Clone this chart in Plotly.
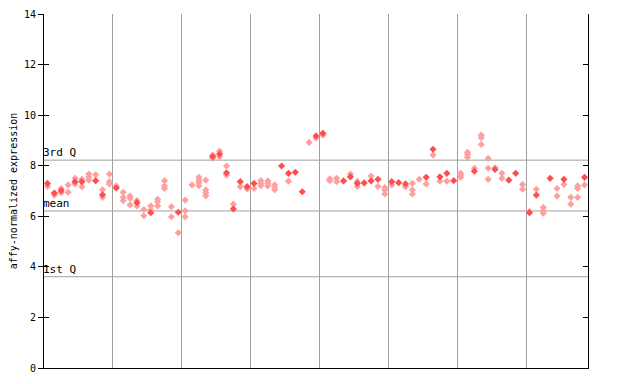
import plotly.graph_objects as go

# per-sample values: solid (filled) diamonds and light (hatched) diamonds
filled_vals = [
    [7.3], [6.92], [7.02], [], [7.37], [7.37], [], [7.41], [6.85], [],
    [7.12], [], [], [6.54], [], [6.14], [], [], [], [6.16],
    [], [], [], [], [8.36], [8.46], [7.72], [6.29], [7.37], [7.17],
    [7.3], [], [], [], [7.99], [7.7], [7.74], [6.97], [], [9.18],
    [9.28], [], [], [7.4], [7.56], [7.3], [7.32], [7.4], [7.46], [],
    [7.37], [7.33], [7.28], [], [], [7.54], [8.65], [7.56], [7.7], [7.41],
    [], [], [7.78], [], [], [7.85], [], [7.43], [7.7], [],
    [6.14], [6.84], [], [7.5], [], [7.46], [], [], [7.54],
]
light_vals = [
    [7.18], [6.84], [7.1, 6.93], [7.24, 6.95], [7.5, 7.28], [7.46, 7.17], [7.67, 7.54, 7.43], [7.64], [7.05, 6.75], [7.67, 7.37, 7.28],
    [7.2], [6.95, 6.75, 6.62], [6.8, 6.71, 6.45], [6.62, 6.41], [6.27, 6.02], [6.41, 6.25], [6.67, 6.58, 6.41], [7.41, 7.2, 7.1], [6.38, 5.98], [5.35],
    [6.64, 6.22, 5.98], [7.24], [7.54, 7.43, 7.33, 7.21], [7.43, 7.04, 6.93, 6.81], [8.42, 8.29], [8.58, 8.36], [7.99, 7.63], [6.48], [7.17], [7.08],
    [7.1], [7.41, 7.3, 7.21], [7.4, 7.3, 7.2], [7.24, 7.14, 7.05], [], [7.39], [], [], [8.92], [9.1],
    [9.21], [7.48, 7.41], [7.5, 7.37], [], [7.67], [7.38, 7.18], [], [7.59], [7.18], [7.14, 7.04, 6.88],
    [7.24], [], [7.17], [7.3, 7.04, 6.88], [7.46], [7.28], [8.42], [7.39], [7.39], [],
    [7.7, 7.63, 7.54], [8.53, 8.45, 8.33], [7.9], [9.21, 9.11, 8.84], [8.29, 7.9, 7.46], [7.92], [7.7, 7.5], [], [], [7.26, 7.07],
    [6.2], [7.07], [6.35, 6.22, 6.12], [], [7.1, 6.8], [7.26], [6.75, 6.48], [7.2, 7.1, 6.75], [7.24],
]
q3_value = 8.22
mean_value = 6.21
q1_value = 3.61
quartile_labels = ["3rd Q", "mean", "1st Q"]
y_ticks = [0, 2, 4, 6, 8, 10, 12, 14]
group_bounds = [10, 20, 30, 40, 50, 60, 70]

n_cols = len(filled_vals)

def flatten(vals):
    xs, ys = [], []
    for i, col in enumerate(vals):
        for v in col:
            xs.append(i + 0.5)
            ys.append(v)
    return xs, ys

lx, ly = flatten(light_vals)
fx, fy = flatten(filled_vals)

fig = go.Figure()
fig.add_trace(go.Scatter(x=lx, y=ly, mode="markers",
                         marker=dict(symbol="diamond", size=5.5, color="#ffa0a0",
                                     line=dict(width=0)),
                         hoverinfo="y", showlegend=False))
fig.add_trace(go.Scatter(x=fx, y=fy, mode="markers",
                         marker=dict(symbol="diamond", size=5.5, color="#ff4d4d",
                                     line=dict(width=0)),
                         hoverinfo="y", showlegend=False))
# dummy trace so the inside-tick overlay axis is drawn
fig.add_trace(go.Scatter(x=[None], y=[None], yaxis="y2", showlegend=False))

mono = "DejaVu Sans Mono"
for val, lab in zip([q3_value, mean_value, q1_value], quartile_labels):
    fig.add_shape(type="line", xref="paper", yref="y", x0=0, x1=1, y0=val, y1=val,
                  line=dict(color="#a0a0a0", width=1), layer="below")
    fig.add_annotation(x=0, xref="paper", y=val, yref="y", text=lab, showarrow=False,
                       xanchor="left", yanchor="bottom", xshift=-3, yshift=-1,
                       font=dict(family=mono, size=11, color="black"))

fig.update_layout(
    width=640, height=384,
    margin=dict(l=36, r=60, t=6, b=24, autoexpand=False),
    paper_bgcolor="white", plot_bgcolor="white",
    font=dict(family=mono, size=10, color="black"),
    xaxis=dict(range=[0, n_cols], showticklabels=False, ticks="", automargin=False,
               tickvals=group_bounds, showgrid=True, gridcolor="#a0a0a0", gridwidth=1,
               zeroline=False, showline=True, linecolor="black", linewidth=1, mirror=False),
    yaxis=dict(range=[0, 14], tickvals=y_ticks, ticks="outside", ticklen=5, automargin=False,
               tickcolor="black", showgrid=False, zeroline=False,
               showline=True, linecolor="black", linewidth=1, mirror=True,
               title=dict(text="affy-normalized expression", standoff=6,
                          font=dict(family=mono, size=10))),
    yaxis2=dict(range=[0, 14], tickvals=y_ticks, ticks="inside", ticklen=5, automargin=False,
                tickcolor="black", overlaying="y", side="left", mirror="ticks",
                showticklabels=False, showgrid=False, zeroline=False, showline=False),
)

fig.write_html("out.html")
